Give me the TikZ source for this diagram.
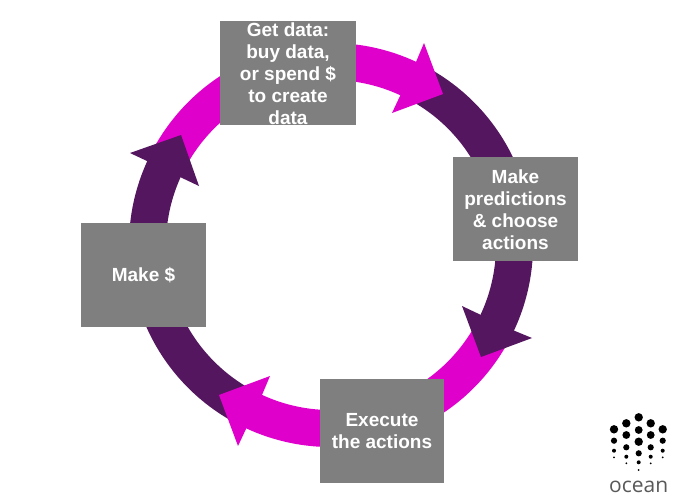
\documentclass[tikz,border=0pt]{standalone}
\usepackage{fontspec}
\setmainfont{Liberation Sans}
\newfontfamily\logofont{Open Sans}
\definecolor{ringmag}{HTML}{E000CC}
\definecolor{ringdark}{HTML}{54165F}
\definecolor{boxgray}{HTML}{7F7F7F}
\tikzset{
  stepbox/.style={fill=boxgray,inner sep=0pt,align=center,text=white,
    font=\fontsize{19}{22}\selectfont\bfseries},
  ringseg/.style={line width=37pt,line cap=butt},
}
\begin{document}
\begin{tikzpicture}[x=1pt,y=-1pt]
\useasboundingbox[fill=white] (0,0) rectangle (700,501);
\coordinate (c) at (331,245);
% ring
\draw[ringseg,ringmag] (c) ++(210:183.5) arc[start angle=210,end angle=296,radius=183.5];
\draw[ringseg,ringdark] (c) ++(300:183.5) arc[start angle=300,end angle=386,radius=183.5];
\draw[ringseg,ringmag] (c) ++(30:183.5) arc[start angle=30,end angle=116,radius=183.5];
\draw[ringseg,ringdark] (c) ++(120:183.5) arc[start angle=120,end angle=205.5,radius=183.5];
% arrow heads
\fill[ringmag] (443,94) -- (424,43) -- (416,62) -- (400,96) -- (392,113) -- cycle;
\fill[ringdark] (481,357) -- (462,306) -- (481,315) -- (515,331) -- (532,338) -- cycle;
\fill[ringmag] (219,395) -- (270,376) -- (262,395) -- (246,429) -- (238,446) -- cycle;
\fill[ringdark] (181,135) -- (130,153) -- (147,161) -- (180,177) -- (199,186) -- cycle;
% boxes
\node[stepbox,minimum width=136pt,minimum height=104pt] (data) at (288,73) {};
\node[stepbox,anchor=center] (datatext) at (288,74) {Get data:\\buy data,\\or spend \$\\to create\\data};
\node[stepbox,minimum width=125pt,minimum height=104pt] (predict) at (515.5,209) {};
\node[stepbox] (predicttext) at (515.5,210) {Make\\predictions\\\& choose\\actions};
\node[stepbox,minimum width=124pt,minimum height=104pt] (execute) at (382,431) {Execute\\the actions};
\node[stepbox,minimum width=125pt,minimum height=104pt] (money) at (143.5,275) {Make \$};
% logo
\foreach \x/\y/\r in {
  638.7/417.3/4.2, 638.7/430/3.9, 638.7/441.7/4.2, 638.7/453.3/3.1, 638.7/462.3/2.0, 638.7/470/1.0,
  626.3/423.3/4.2, 626.3/435/3.9, 626.3/447.3/3.1, 626.3/456.7/2.0, 626.3/463.3/1.0,
  650.7/423.3/4.2, 650.7/435/3.9, 650.7/447.3/3.1, 650.7/456.7/2.0, 650.7/463.3/1.0,
  614/429.3/4.2, 614/440.7/3.1, 614/450.7/2.0, 614/457.3/1.0,
  662.7/429.3/4.2, 662.7/440.7/3.1, 662.7/450.7/2.0, 662.7/457.3/1.0}
  {\fill[black] (\x,\y) circle[radius=\r];}
\node[inner sep=0pt,font=\logofont\fontsize{21}{24}\selectfont,text=black!65] (logo) at (638.7,487) {ocean};
\end{tikzpicture}
\end{document}
